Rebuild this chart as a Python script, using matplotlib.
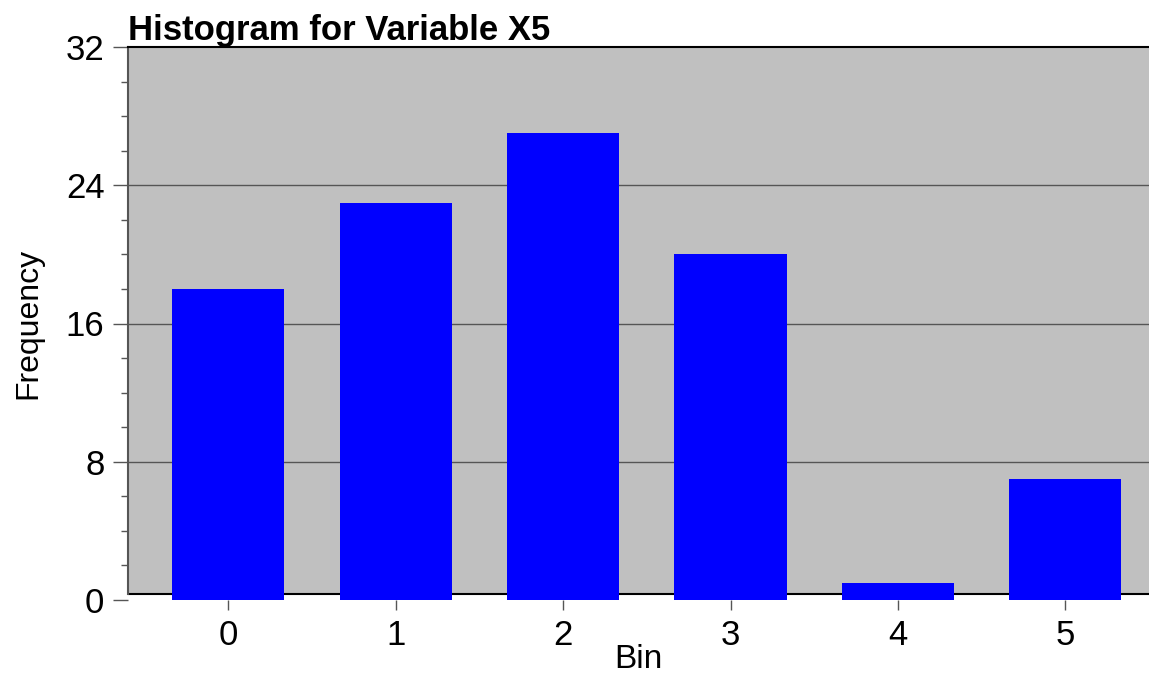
import numpy as np
import matplotlib.pyplot as plt
from matplotlib.patches import Rectangle

bins = [0, 1, 2, 3, 4, 5]
freq = [18, 23, 27, 20, 1, 7]

plt.rcParams['font.family'] = ['Liberation Sans', 'DejaVu Sans']

fig = plt.figure(figsize=(11.49, 6.77), dpi=100)
ax = fig.add_axes([128/1149, 1-600/677, 1-128/1149, 553/677])
ax.set_facecolor('white')

# gray plot area stops a few pixels above zero
off = 6/553
ax.add_patch(Rectangle((0, off), 1, 1-off, transform=ax.transAxes,
                       facecolor='#c0c0c0', edgecolor='none', zorder=0))
ax.axhline(0.35, color='black', lw=1.5, zorder=1)

for yv in [8, 16, 24]:
    ax.axhline(yv, color='#555555', lw=1, zorder=1)

ax.bar(bins, freq, width=0.67, color='#0000ff', zorder=3)

ax.set_xlim(-0.6, 5.5)
ax.set_ylim(0, 32)
ax.set_yticks([0, 8, 16, 24, 32])
ax.set_yticks(np.arange(0, 33, 2), minor=True)
ax.set_xticks(bins)

for s in ['right', 'bottom']:
    ax.spines[s].set_visible(False)
ax.spines['top'].set_linewidth(1.5)
ax.spines['left'].set_color('#555555')
ax.spines['left'].set_linewidth(1.5)
ax.spines['left'].set_bounds(0.35, 32)

ax.tick_params(axis='y', which='major', length=11, width=1, color='#555555',
               labelsize=25, pad=6)
ax.tick_params(axis='y', which='minor', length=5, width=1, color='#555555')
ax.tick_params(axis='x', length=7, width=1, color='#555555', labelsize=25, pad=7)

ax.set_xlabel('Bin', fontsize=24, labelpad=-6)
ax.set_ylabel('Frequency', fontsize=23, labelpad=16)
ax.set_title('Histogram for Variable X5', fontsize=25, fontweight='bold',
             loc='left', pad=5)

fig.savefig('out.png', dpi=100)
